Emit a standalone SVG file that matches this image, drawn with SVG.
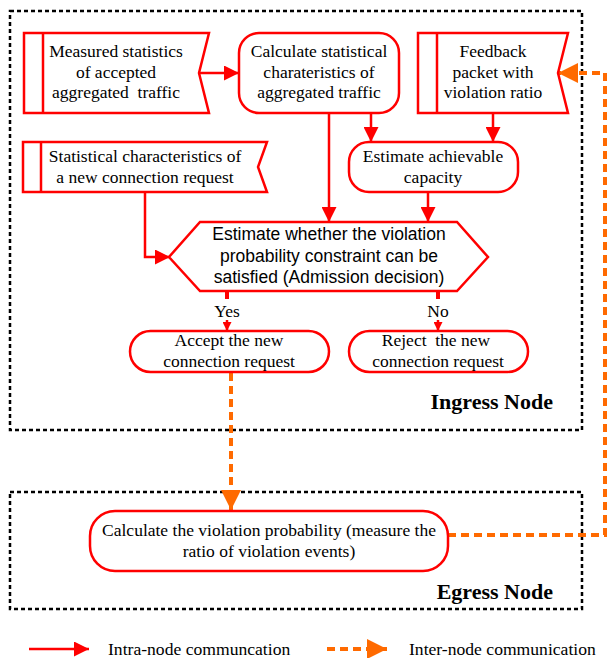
<svg xmlns="http://www.w3.org/2000/svg" width="607" height="658" viewBox="0 0 607 658">
<style>
.bg{fill:#fff}
.region{fill:none;stroke:#000;stroke-width:2.5;stroke-dasharray:4 3}
.box{fill:#fff;stroke:#f00;stroke-width:2.5}
.red{fill:none;stroke:#f00;stroke-width:2.5}
.org{fill:none;stroke:#ff6a00;stroke-width:4;stroke-dasharray:8 5}
.t{font-family:"Liberation Serif","Times New Roman",serif;font-size:17.5px;fill:#000;text-anchor:middle}
.s{font-family:"Liberation Sans",Arial,sans-serif;font-size:17.5px;fill:#000;text-anchor:middle}
.b{font-family:"Liberation Serif","Times New Roman",serif;font-size:22px;font-weight:bold;fill:#000;text-anchor:end}
.lg{font-family:"Liberation Serif","Times New Roman",serif;font-size:17.6px;fill:#000}
</style>
<defs>
<marker id="ar" viewBox="0 0 10 10" refX="10" refY="5" markerWidth="15" markerHeight="15" markerUnits="userSpaceOnUse" orient="auto"><path d="M0,0 L10,5 L0,10 z" fill="#f00"/></marker>
<marker id="ars" viewBox="0 0 10 10" refX="10" refY="5" markerWidth="9" markerHeight="9" markerUnits="userSpaceOnUse" orient="auto"><path d="M0,0 L10,5 L0,10 z" fill="#f00"/></marker>
<marker id="ao" viewBox="0 0 10 10" refX="10" refY="5" markerWidth="20" markerHeight="20" markerUnits="userSpaceOnUse" orient="auto"><path d="M0,0 L10,5 L0,10 z" fill="#ff6a00"/></marker>
</defs>
<rect class="bg" x="0" y="0" width="607" height="658"/>

<g id="ingress">
<rect class="region" x="10" y="11" width="572" height="419"/>
<text class="b" x="553" y="409">Ingress Node</text>
</g>
<g id="egress">
<rect class="region" x="10" y="492" width="572" height="117"/>
<text class="b" x="553" y="599">Egress Node</text>
</g>

<g id="connectors">
<line class="red" x1="200" y1="73" x2="239" y2="73" marker-end="url(#ar)"/>
<line class="red" x1="371" y1="113" x2="371" y2="142" marker-end="url(#ar)"/>
<line class="red" x1="493" y1="113" x2="493" y2="142" marker-end="url(#ar)"/>
<line class="red" x1="329" y1="113" x2="329" y2="222" marker-end="url(#ar)"/>
<line class="red" x1="428" y1="192" x2="428" y2="222" marker-end="url(#ar)"/>
<polyline class="red" points="145,192 145,257 170,257" marker-end="url(#ar)"/>
<line stroke="#f00" stroke-width="4" x1="227" y1="291" x2="227" y2="299"/>
<line class="red" stroke-width="1.5" x1="227" y1="320" x2="227" y2="331" marker-end="url(#ars)"/>
<text class="t" x="227" y="317">Yes</text>
<line stroke="#f00" stroke-width="4" x1="438" y1="291" x2="438" y2="299"/>
<line class="red" stroke-width="1.5" x1="438" y1="320" x2="438" y2="331" marker-end="url(#ars)"/>
<text class="t" x="438" y="317">No</text>
<line class="org" x1="231" y1="373" x2="231" y2="510" marker-end="url(#ao)"/>
<polyline class="org" points="448,535 605,535 605,73 558,73" marker-end="url(#ao)"/>
</g>

<g id="n1">
<path class="box" d="M24,33 H209 L199,73 L209,113 H24 Z"/>
<line class="red" x1="43" y1="33" x2="43" y2="113"/>
<text class="t" x="116" y="57">Measured statistics</text>
<text class="t" x="116" y="78">of accepted</text>
<text class="t" x="116" y="98" xml:space="preserve">aggregated  traffic</text>
</g>

<g id="n2">
<rect class="box" x="239" y="33" width="160" height="80" rx="20"/>
<text class="t" x="319" y="57">Calculate statistical</text>
<text class="t" x="319" y="78">charateristics of</text>
<text class="t" x="319" y="98">aggregated traffic</text>
</g>

<g id="n3">
<path class="box" d="M418,33 H568 L558,73 L568,113 H418 Z"/>
<line class="red" x1="437" y1="33" x2="437" y2="113"/>
<text class="t" x="493" y="57">Feedback</text>
<text class="t" x="493" y="78">packet with</text>
<text class="t" x="493" y="98">violation ratio</text>
</g>

<g id="n4">
<rect class="box" x="349" y="142" width="169" height="50" rx="20"/>
<text class="t" x="433" y="162">Estimate achievable</text>
<text class="t" x="433" y="183">capacity</text>
</g>

<g id="n5">
<path class="box" d="M23,142 H267 L258,167 L267,192 H23 Z"/>
<line class="red" x1="41" y1="142" x2="41" y2="192"/>
<text class="t" x="145" y="162">Statistical characteristics of</text>
<text class="t" x="145" y="183">a new connection request</text>
</g>

<g id="decision">
<path class="box" d="M169,257 L200,222 H457 L488,257 L457,291 H200 Z"/>
<text class="s" x="329" y="240">Estimate whether the violation</text>
<text class="s" x="329" y="262">probability constraint can be</text>
<text class="s" x="329" y="283">satisfied (Admission decision)</text>
</g>

<g id="accept">
<rect class="box" x="130" y="331" width="199" height="41" rx="20.5"/>
<text class="t" x="229" y="346">Accept the new</text>
<text class="t" x="229" y="367">connection request</text>
</g>

<g id="reject">
<rect class="box" x="349" y="331" width="179" height="41" rx="20.5"/>
<text class="t" x="436" y="346" xml:space="preserve">Reject  the new</text>
<text class="t" x="438" y="367">connection request</text>
</g>

<g id="calc">
<rect class="box" x="90" y="511" width="358" height="60" rx="25"/>
<text class="t" x="269" y="536">Calculate the violation probability (measure the</text>
<text class="t" x="269" y="557">ratio of violation events)</text>
</g>

<g id="legend">
<line class="red" x1="29" y1="649" x2="89" y2="649" marker-end="url(#ar)"/>
<text class="lg" x="108" y="655">Intra-node communcation</text>
<line class="org" x1="327" y1="649" x2="387" y2="649" marker-end="url(#ao)"/>
<text class="lg" x="409" y="655">Inter-node communication</text>
</g>
</svg>
